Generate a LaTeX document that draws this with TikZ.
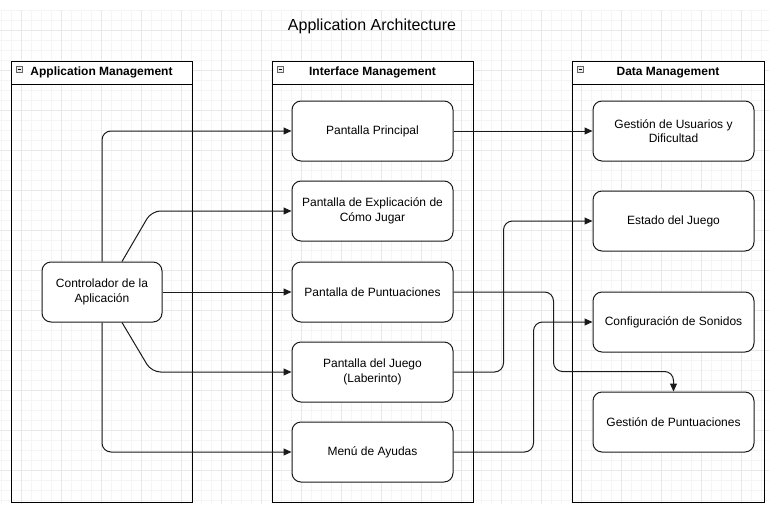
\documentclass[tikz,border=0pt]{standalone}
\usepackage{fontspec}
\setmainfont{Liberation Sans}
\usetikzlibrary{arrows.meta,calc}
\definecolor{gridminor}{HTML}{F5F5F5}
\definecolor{gridmajor}{HTML}{E8E8E8}
\definecolor{linec}{HTML}{1A1A1A}
\tikzset{
  box/.style={draw=linec, line width=1pt, fill=white, rounded corners=9pt,
    minimum width=161pt, minimum height=60pt, inner sep=0pt, align=center,
    font=\fontsize{12}{14.5}\selectfont, text=black},
  lane/.style={draw=black, line width=0.9pt},
  lanehead/.style={font=\bfseries\fontsize{12}{14}\selectfont, text=black},
  conn/.style={draw=linec, line width=1pt, rounded corners=9pt,
    -{Triangle[length=8pt,width=7pt]}},
}
\begin{document}
\begin{tikzpicture}[x=1pt,y=-1pt]
\useasboundingbox (0,0) rectangle (769,504);
\fill[white] (0,0) rectangle (769,504);
% grid
\foreach \x in {1,11,...,769} \draw[gridminor, line width=0.7pt] (\x,10) -- (\x,504);
\foreach \y in {10,20,...,504} \draw[gridminor, line width=0.7pt] (0,\y) -- (769,\y);
\foreach \x in {21,61,...,769} \draw[gridmajor, line width=0.7pt] (\x,10) -- (\x,504);
\foreach \y in {30,70,...,504} \draw[gridmajor, line width=0.7pt] (0,\y) -- (769,\y);

% title
\node[font=\fontsize{16}{18}\selectfont] (title) at (372,26) {Application Architecture};

% swimlanes
\foreach \l/\r/\t [count=\i] in {11/192/Application Management,272/473/Interface Management,572/764/Data Management}{
  \fill[white] (\l,61) rectangle (\r,84);
  \draw[lane] (\l,61) rectangle (\r,502);
  \draw[lane] (\l,84) -- (\r,84);
  \draw[draw=gray!80!black, fill=gray!15, line width=0.6pt] (\l+5,66) rectangle (\l+11,72);
  \draw[line width=0.6pt] (\l+6.5,69) -- (\l+9.5,69);
  \node[lanehead] (lane\i) at ({(\l+\r)/2},72.5) {\t};
}

% nodes
\node[box, minimum width=120pt] (ctrl) at (102,292) {Controlador de la\\Aplicación};
\node[box] (pp) at (372.5,131) {Pantalla Principal};
\node[box] (exp) at (372.5,211) {Pantalla de Explicación de\\Cómo Jugar};
\node[box] (pt) at (372.5,292) {Pantalla de Puntuaciones};
\node[box] (juego) at (372.5,372) {Pantalla del Juego\\(Laberinto)};
\node[box] (menu) at (372.5,452) {Menú de Ayudas};
\node[box] (usr) at (673.5,131) {Gestión de Usuarios y\\Dificultad};
\node[box] (est) at (673.5,221) {Estado del Juego};
\node[box] (snd) at (673.5,322) {Configuración de Sonidos};
\node[box] (gp) at (673.5,422) {Gestión de Puntuaciones};

% connectors
\draw[conn] (ctrl.north) |- (pp.west);
\draw[conn] ([xshift=20pt]ctrl.north) -- ([xshift=-140pt]exp.west) -- (exp.west);
\draw[conn] (ctrl.east) -- (pt.west);
\draw[conn] ([xshift=20pt]ctrl.south) -- ([xshift=-140pt]juego.west) -- (juego.west);
\draw[conn] (ctrl.south) |- (menu.west);
\draw[conn] (pp.east) -- (usr.west);
\draw[conn] (juego.east) -- ++(50,0) |- (est.west);
\draw[conn] (menu.east) -- ++(80,0) |- (snd.west);
\draw[conn] (pt.east) -- ++(100,0) |- ([yshift=20pt]gp.north) -- (gp.north);
\end{tikzpicture}
\end{document}
